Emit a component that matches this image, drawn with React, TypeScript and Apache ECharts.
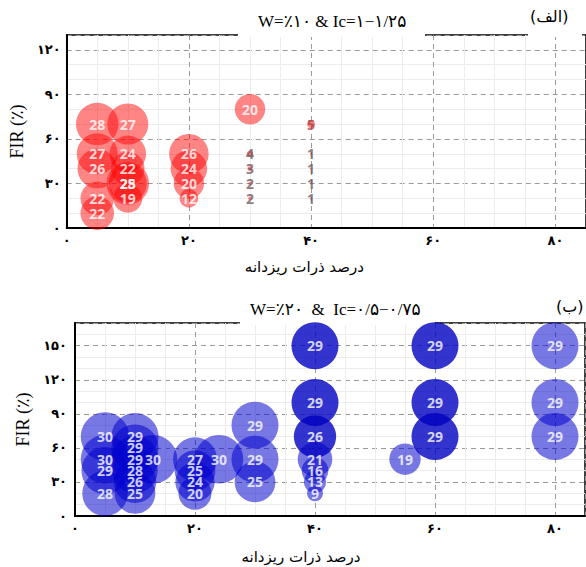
import React, { useEffect, useRef } from "react";
import * as echarts from "echarts";

// Panel (الف): W=%10, Ic=1-1.25
const panelAFines = [5, 5, 5, 5, 5, 10, 10, 10, 10, 10, 10, 20, 20, 20, 20, 30, 30, 30, 30, 30, 40, 40, 40, 40, 40];
const panelAFir = [70, 50, 40, 20, 10, 70, 50, 40, 30, 30, 20, 50, 40, 30, 20, 80, 50, 40, 30, 20, 70, 50, 40, 30, 20];
const panelACount = [28, 27, 26, 22, 22, 27, 24, 22, 25, 28, 19, 26, 24, 20, 12, 20, 4, 3, 2, 2, 5, 1, 1, 1, 1];

// Panel (ب): W=%20, Ic=0.5-0.75 — translucent bubbles
const panelBFines = [5, 5, 5, 5, 10, 10, 10, 10, 10, 10, 13, 20, 20, 20, 20, 24, 30, 30, 30, 40, 40, 40, 40, 55, 80, 80, 80];
const panelBFir = [70, 50, 40, 20, 70, 60, 50, 40, 30, 20, 50, 50, 40, 30, 20, 50, 80, 50, 30, 50, 40, 30, 20, 50, 150, 100, 70];
const panelBCount = [30, 30, 29, 28, 29, 29, 29, 28, 26, 25, 30, 27, 25, 24, 20, 30, 29, 29, 25, 21, 16, 13, 9, 19, 29, 29, 29];

// Panel (ب): solid (dense) bubbles
const panelBSolidFines = [40, 40, 40, 60, 60, 60];
const panelBSolidFir = [150, 100, 70, 150, 100, 70];
const panelBSolidCount = [29, 29, 26, 29, 29, 29];

// Axis ticks
const xTicks = [0, 20, 40, 60, 80];
const yTicksA = [0, 30, 60, 90, 120];
const yTicksB = [0, 30, 60, 90, 120, 150];

const faDigits = "۰۱۲۳۴۵۶۷۸۹";
const toFa = (n: number | string) => String(n).replace(/\d/g, (d) => faDigits[+d]);

const serif = "'Liberation Serif', 'DejaVu Serif', 'DejaVu Sans', serif";
const labelFont = "'Noto Sans', 'DejaVu Sans', sans-serif";

function zip(xs: number[], ys: number[], vs: number[]) {
  return xs.map((x, i) => [x, ys[i], vs[i]]);
}

export default function App() {
  const ref = useRef<HTMLDivElement>(null);
  useEffect(() => {
    document.body.style.margin = "0";
    const chart = echarts.init(ref.current!, undefined, { renderer: "svg" });

    const axisX = (gi: number) => ({
      type: "value",
      gridIndex: gi,
      min: 0,
      max: 85,
      interval: 20,
      axisLine: { show: true, onZero: false, lineStyle: { color: "#000", width: 2 } },
      axisTick: { show: false },
      axisLabel: {
        formatter: (v: number) => (xTicks.includes(v) ? toFa(v) : ""),
        fontFamily: "'DejaVu Sans', sans-serif",
        fontWeight: "bold",
        fontSize: 13,
        color: "#000",
        margin: 6,
        showMaxLabel: false,
      },
      splitLine: { show: true, lineStyle: { type: [5, 4], color: "#9a9a9a", width: 1 } },
      minorTick: { show: false, splitNumber: 4 },
      minorSplitLine: { show: true, lineStyle: { color: "#ececec", width: 1 } },
      name: "درصد ذرات ریزدانه",
      nameLocation: "middle",
      nameGap: gi === 0 ? 31 : 33,
      nameTextStyle: {
        fontFamily: "'DejaVu Sans', sans-serif",
        fontSize: 15,
        color: "#000",
        padding: gi === 0 ? [0, 44, 0, 0] : [0, 58, 0, 0],
      },
    });

    const axisY = (gi: number, max: number, ticks: number[]) => ({
      type: "value",
      gridIndex: gi,
      min: 0,
      max,
      interval: 30,
      axisLine: { show: true, onZero: false, lineStyle: { color: "#000", width: 2 } },
      axisTick: { show: false },
      axisLabel: {
        formatter: (v: number) => (ticks.includes(v) ? toFa(v) : ""),
        fontFamily: "'DejaVu Sans', sans-serif",
        fontWeight: "bold",
        fontSize: 13,
        color: "#000",
        margin: gi === 0 ? 6 : 8,
        showMaxLabel: false,
      },
      splitLine: { show: true, lineStyle: { type: [5, 4], color: "#9a9a9a", width: 1 } },
      minorTick: { show: false, splitNumber: 3 },
      minorSplitLine: { show: true, lineStyle: { color: "#ececec", width: 1 } },
      name: "FIR (٪)",
      nameLocation: "middle",
      nameGap: gi === 0 ? 36 : 41,
      nameRotate: 90,
      nameTextStyle: { fontFamily: serif, fontSize: 18, color: "#000" },
    });

    const sizeA = (v: number) => Math.max(1.5, 1.5 * v + 0.5);
    const sizeB = (v: number) => 1.55 * v + 2;

    const aData = zip(panelAFines, panelAFir, panelACount);
    const bData = zip(panelBFines, panelBFir, panelBCount);
    const bSolid = zip(panelBSolidFines, panelBSolidFir, panelBSolidCount);

    const labelSeries = (xi: number, data: number[][], small: boolean) => ({
      type: "scatter",
      xAxisIndex: xi,
      yAxisIndex: xi,
      z: 5,
      symbolSize: 1,
      itemStyle: { color: "rgba(0,0,0,0)" },
      data: data.map((d) => ({
        value: d,
        label: {
          color: small && d[2] < 10 ? (d[2] === 5 ? "#a34848" : "#6f5a5a") : "#ffffff",
        },
      })),
      label: {
        show: true,
        position: "inside",
        formatter: (p: any) => String(p.value[2]),
        fontFamily: labelFont,
        fontWeight: "bold",
        fontSize: 14,
        color: "#fff",
      },
      labelLayout: { hideOverlap: false },
      silent: true,
    });

    chart.setOption({
      animation: false,
      backgroundColor: "#fff",
      grid: [
        { left: 65, top: 35, width: 522, height: 193, show: true, borderColor: "#000", borderWidth: 1.5 },
        { left: 75, top: 323, width: 510, height: 193, show: true, borderColor: "#000", borderWidth: 1.5 },
      ],
      title: [
        {
          text: "W=٪۱۰ & Ic=۱−۱/۲۵",
          left: 258,
          top: 13,
          padding: 0,
          textStyle: { fontFamily: serif, fontSize: 17, fontWeight: "normal", color: "#000" },
        },
        {
          text: "(الف)",
          left: 530,
          top: 8,
          padding: 0,
          textStyle: { fontFamily: "'DejaVu Sans', sans-serif", fontSize: 16, fontWeight: "normal", color: "#000" },
        },
        {
          text: "W=٪۲۰  &  Ic=۰/۵−۰/۷۵",
          left: 250,
          top: 301,
          padding: 0,
          textStyle: { fontFamily: serif, fontSize: 17, fontWeight: "normal", color: "#000" },
        },
        {
          text: "(ب)",
          left: 556,
          top: 298,
          padding: 0,
          textStyle: { fontFamily: "'DejaVu Sans', sans-serif", fontSize: 16, fontWeight: "normal", color: "#000" },
        },
      ],
      graphic: [
        { type: "rect", z: 1, shape: { x: 238, y: 33, width: 187, height: 4 }, style: { fill: "#fff" } },
        { type: "rect", z: 1, shape: { x: 528, y: 33, width: 54, height: 4 }, style: { fill: "#fff" } },
        { type: "rect", z: 1, shape: { x: 240, y: 321, width: 195, height: 4 }, style: { fill: "#fff" } },
      ],
      xAxis: [axisX(0), axisX(1)],
      yAxis: [axisY(0, 130, yTicksA), axisY(1, 170, yTicksB)],
      series: [
        {
          type: "scatter",
          xAxisIndex: 0,
          yAxisIndex: 0,
          data: aData,
          symbolSize: (v: number[]) => sizeA(v[2]),
          itemStyle: { color: "rgba(255,0,0,0.6)" },
          z: 2,
        },
        labelSeries(0, aData, true),
        {
          type: "scatter",
          xAxisIndex: 1,
          yAxisIndex: 1,
          data: bData,
          symbolSize: (v: number[]) => sizeB(v[2]),
          itemStyle: { color: "rgba(0,0,205,0.66)" },
          z: 2,
        },
        {
          type: "scatter",
          xAxisIndex: 1,
          yAxisIndex: 1,
          data: bSolid,
          symbolSize: (v: number[]) => sizeB(v[2]),
          itemStyle: { color: "#0000c0" },
          z: 3,
        },
        labelSeries(1, bData.concat(bSolid), false),
      ],
    });
    return () => chart.dispose();
  }, []);
  return <div ref={ref} style={{ width: 586, height: 567 }} />;
}
